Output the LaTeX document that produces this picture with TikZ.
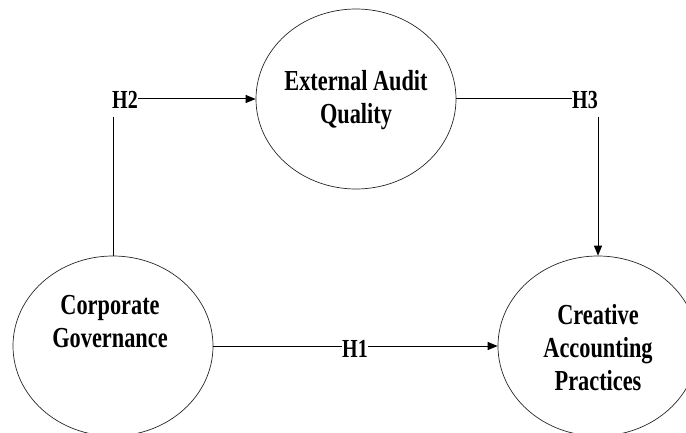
\documentclass[tikz,border=0pt]{standalone}
\usepackage{fontspec}
\setmainfont[FakeStretch=0.77]{Liberation Serif}
\usetikzlibrary{shapes.geometric,arrows.meta}
\begin{document}
\begin{tikzpicture}[x=1pt,y=-1pt,
  var/.style={ellipse,draw=black!85,line width=0.7pt,minimum width=200pt,minimum height=180pt,inner sep=0pt},
  txt/.style={font=\fontsize{29}{33}\selectfont\bfseries,align=center,inner sep=0pt},
  hyp/.style={font=\fontsize{26}{30}\selectfont\bfseries,inner sep=0pt},
  conn/.style={line width=1pt,black},
  arr/.style={conn,-{Triangle[length=10pt,width=8pt]}}]
\useasboundingbox (0,0) rectangle (686,433);
\node[var] (ea) at (356,99) {};
\node[txt] (eat) at (356,100) {External Audit\\Quality};
\node[var] (cg) at (113,346) {};
\node[txt] (cgt) at (110,322) {Corporate\\Governance};
\node[var] (cap) at (598,346) {};
\node[txt] (capt) at (598,348) {Creative\\Accounting\\Practices};
\node[hyp,anchor=west] (h2) at (112,100) {H2};
\node[hyp,anchor=west] (h3) at (572,100) {H3};
\node[hyp,anchor=west] (h1) at (342,349) {H1};
\draw[conn] (cg.north) -- ([yshift=-8pt]cg.north |- h2.south);
\draw[arr] (h2.east |- ea.west) -- (ea.west);
\draw[conn] (ea.east) -- (h3.west |- ea.east);
\draw[arr] ([yshift=-8pt]cap.north |- h3.south) -- (cap.north);
\draw[conn] (cg.east) -- (h1.west |- cg.east);
\draw[arr] (h1.east |- cap.west) -- (cap.west);
\end{tikzpicture}
\end{document}
